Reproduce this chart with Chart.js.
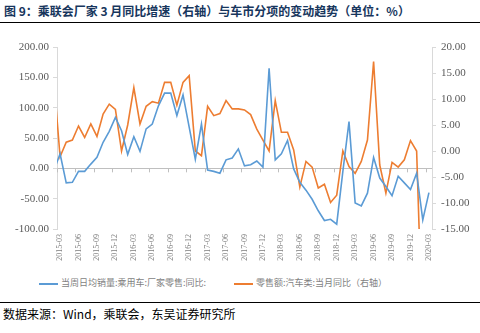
<!DOCTYPE html>
<html>
<head>
<meta charset="utf-8">
<script src="https://cdn.jsdelivr.net/npm/chart.js@4"></script>
<style>
  body { margin: 0; background: #fff; width: 480px; height: 333px; position: relative; overflow: hidden; }
  .title { position: absolute; left: 4px; top: 2px; font: bold 12px "Noto Sans CJK SC"; color: #17365d; white-space: nowrap; }
  .rule { position: absolute; left: 0; width: 480px; height: 1px; background: #000; }
  #wrap { position: absolute; left: 0; top: 25px; width: 480px; height: 240px; }
  #chartLegend { position: absolute; top: 276px; left: 39px; font: 9px "Noto Sans CJK SC"; color: #7f7f7f; white-space: nowrap; }
  .legend-item { display: inline-block; margin-right: 28px; }
  .legend-color { display: inline-block; width: 19px; height: 2px; vertical-align: middle; margin-right: 3px; }
  .source { position: absolute; left: 3px; top: 305px; font: 12px "Noto Sans CJK SC"; color: #000; white-space: nowrap; }
</style>
</head>
<body>
<div class="title">图 9：乘联会厂家 3 月同比增速（右轴）与车市分项的变动趋势（单位：%）</div>
<div class="rule" style="top:22px"></div>
<div id="wrap"><canvas id="trendChart" width="480" height="240"></canvas></div>
<div id="chartLegend"></div>
<div class="rule" style="top:302px"></div>
<div class="source">数据来源：Wind，乘联会，东吴证券研究所</div>
<script>
const months = [
  '2015-02', '2015-03', '2015-04', '2015-05', '2015-06', '2015-07', '2015-08', '2015-09', '2015-10', '2015-11', '2015-12',
  '2016-01', '2016-02', '2016-03', '2016-04', '2016-05', '2016-06', '2016-07', '2016-08', '2016-09', '2016-10', '2016-11', '2016-12',
  '2017-01', '2017-02', '2017-03', '2017-04', '2017-05', '2017-06', '2017-07', '2017-08', '2017-09', '2017-10', '2017-11', '2017-12',
  '2018-01', '2018-02', '2018-03', '2018-04', '2018-05', '2018-06', '2018-07', '2018-08', '2018-09', '2018-10', '2018-11', '2018-12',
  '2019-01', '2019-02', '2019-03', '2019-04', '2019-05', '2019-06', '2019-07', '2019-08', '2019-09', '2019-10', '2019-11', '2019-12',
  '2020-01', '2020-02', '2020-03'
];

// 当周日均销量:乘用车:厂家零售:同比 (left axis)
const factoryRetail = [
  -4, 24, -24, -23, -5, -5, 7, 18, 43, 61, 84,
  62, 23, 52, 28, 65, 73, 103, 124, 124, 87, 121, 68,
  15, 73, -3, -5, -8, 14, 17, 32, 4, 6, 12, 2,
  165, 14, 24, 46, -1, -23, -36, -51, -70, -86, -84, -92,
  -5, 77, -57, -62, -41, 18, -16, -30, -45, -13, -24, -35,
  -8, -85, -40
];

// 零售额:汽车类:当月同比 (right axis)
const autoRetail = [
  13.5, -1.1, 1.7, 2.1, 4.8, 2.6, 5.2, 2.8, 7.1, 9.0, 8.0,
  0.0, 5.0, 12.2, 5.2, 8.6, 9.5, 9.2, 13.2, 13.2, 8.8, 13.2, 14.5,
  0.0, -0.9, 8.6, 6.8, 7.2, 9.7, 8.1, 8.1, 7.9, 7.0, 4.2, 2.1,
  0.0, 9.7, 3.6, 3.6, 0.2, -6.9, -2.0, -3.1, -7.1, -6.4, -9.9, -8.5,
  0.0, -3.0, -4.3, -2.0, 2.1, 17.2, -2.7, -8.1, -2.2, -3.1, -1.7, 2.0,
  0.0, -37.0, null
];

const seriesNames = ['当周日均销量:乘用车:厂家零售:同比:', '零售额:汽车类:当月同比（右轴）'];
const seriesColors = ['#5b9bd5', '#ed7d31'];

const quarterLabel = m => /-(03|06|09|12)$/.test(m);
const tickFont = { family: '"Liberation Serif", "Times New Roman", serif', size: 11 };

// small tick marks on the zero line, at the start of each labelled month
const zeroTicks = {
  id: 'zeroTicks',
  beforeDatasetsDraw(chart) {
    const xs = chart.scales.x, y0 = chart.scales.y.getPixelForValue(0);
    const ctx = chart.ctx;
    ctx.save();
    ctx.strokeStyle = '#bfbfbf';
    ctx.lineWidth = 1;
    months.forEach((m, i) => {
      if (i < 1 || !quarterLabel(m)) return;
      const px = Math.round((xs.getPixelForValue(i) + xs.getPixelForValue(i - 1)) / 2) + 0.5;
      ctx.beginPath();
      ctx.moveTo(px, y0);
      ctx.lineTo(px, y0 + 4);
      ctx.stroke();
    });
    ctx.restore();
  }
};

const ctx = document.getElementById('trendChart').getContext('2d');
new Chart(ctx, {
  type: 'line',
  data: {
    labels: months,
    datasets: [
      { label: seriesNames[0], data: factoryRetail, yAxisID: 'y', borderColor: seriesColors[0], borderWidth: 1.6, pointRadius: 0, tension: 0 },
      { label: seriesNames[1], data: autoRetail, yAxisID: 'y1', borderColor: seriesColors[1], borderWidth: 1.6, pointRadius: 0, tension: 0, spanGaps: false }
    ]
  },
  options: {
    responsive: false,
    devicePixelRatio: 1,
    animation: false,
    layout: { padding: { top: 22, left: 0, right: 0, bottom: 0 } },
    plugins: { legend: { display: false }, tooltip: { enabled: false } },
    scales: {
      x: {
        min: '2015-03',
        offset: true,
        grid: { display: false, drawTicks: false },
        border: { display: false },
        afterFit: s => { s.height = 36; },
        ticks: {
          autoSkip: false,
          minRotation: 90,
          maxRotation: 90,
          padding: 5,
          color: '#7f7f7f',
          font: { family: tickFont.family, size: 8 },
          callback: function(val) {
            const m = this.getLabelForValue(val);
            return quarterLabel(m) ? m : '';
          }
        }
      },
      y: {
        position: 'left',
        min: -100,
        max: 200,
        afterFit: s => { s.width = 57; },
        border: { display: true, color: '#d9d9d9' },
        grid: {
          color: c => c.tick && c.tick.value === 0 ? '#bfbfbf' : 'rgba(0,0,0,0)',
          tickColor: '#d9d9d9',
          tickLength: 4
        },
        ticks: { stepSize: 50, padding: 4, color: '#595959', font: tickFont, callback: v => v.toFixed(2) }
      },
      y1: {
        position: 'right',
        min: -15,
        max: 20,
        afterFit: s => { s.width = 48; },
        border: { display: true, color: '#d9d9d9' },
        grid: { drawOnChartArea: false, tickColor: '#d9d9d9', tickLength: 4 },
        ticks: { stepSize: 5, padding: 5, color: '#595959', font: tickFont, callback: v => v.toFixed(2) }
      }
    }
  },
  plugins: [zeroTicks]
});

const legend = document.getElementById('chartLegend');
seriesNames.forEach((name, i) => {
  const item = document.createElement('div');
  item.className = 'legend-item';
  item.innerHTML = `<span class="legend-color" style="background:${seriesColors[i]}"></span>${name}`;
  legend.appendChild(item);
});
</script>
</body>
</html>
